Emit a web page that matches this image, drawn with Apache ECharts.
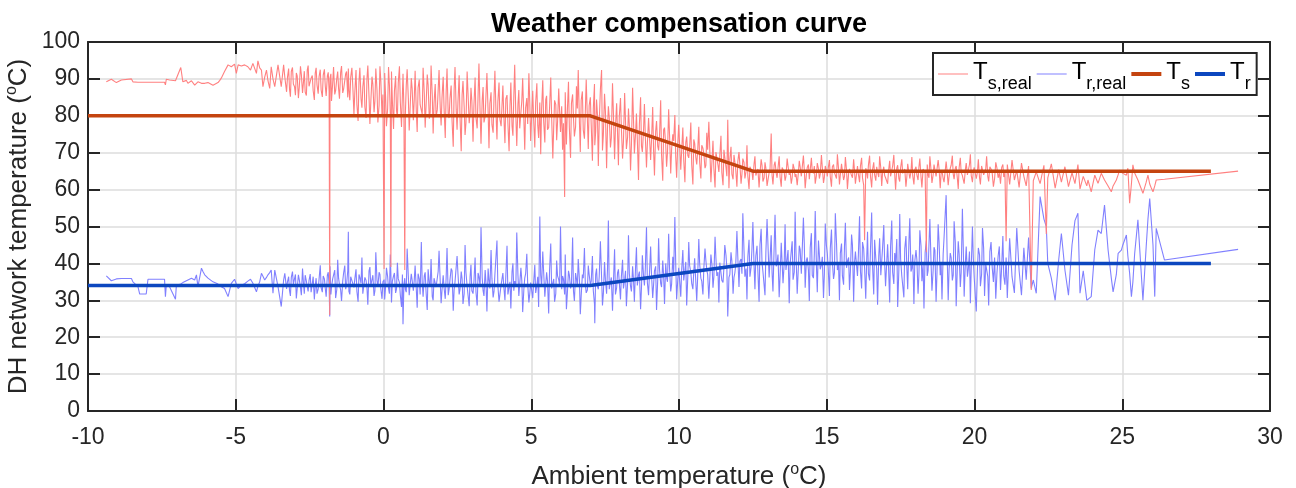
<!DOCTYPE html>
<html><head><meta charset="utf-8">
<script src="https://cdn.jsdelivr.net/npm/echarts@6/dist/echarts.min.js"></script>
<style>html,body{margin:0;padding:0;background:#fff}#c{width:1296px;height:488px}</style>
</head><body><div id="c"></div>
<script>
// ---- data ----
// measurement samples, batch 1 (whole range)
const ambient = [
 -9.38,-9.21,-9.04,-8.98,-8.87,-8.53,-8.48,-8.31,-8.25,-8.03,-7.97,-7.41,-7.38,-7.35,-7.24,-7.04,
 -7.01,-6.86,-6.79,-6.67,-6.62,-6.50,-6.39,-6.33,-6.28,-6.16,-6.11,-6.05,-5.94,-5.88,-5.77,-5.71,
 -5.60,-5.54,-5.49,-5.38,-5.26,-5.15,-5.04,-4.98,-4.92,-4.81,-4.70,-4.64,-4.59,-4.50,-4.47,-4.42,
 -4.30,-4.25,-4.19,-4.13,-4.08,-4.02,-3.96,-3.91,-3.85,-3.80,-3.74,-3.68,-3.57,-3.46,-3.38,-3.34,
 -3.28,-3.21,-3.15,-3.08,-3.01,-2.95,-2.88,-2.81,-2.74,-2.68,-2.61,-2.55,-2.48,-2.41,-2.34,-2.28,-2.21,-2.14,-2.07,
 -2.00,-1.94,-1.87,-1.82,-1.81,-1.76,-1.69,-1.62,-1.55,-1.49,-1.42,-1.35,-1.28,-1.21,-1.19,-1.14,-1.07,
 -1.00,-0.93,-0.86,-0.80,-0.73,-0.66,-0.59,-0.53,-0.46,-0.39,-0.32,-0.26,-0.19,-0.12,-0.05,
 0.02,0.04,0.10,0.17,0.23,0.25,0.27,0.34,0.41,0.47,0.54,0.61,0.66,0.72,0.74,0.80,0.87,0.94,
 1.01,1.07,1.14,1.21,1.28,1.34,1.41,1.48,1.55,1.61,1.68,1.75,1.82,1.88,1.95,
 2.02,2.09,2.15,2.22,2.29,2.36,2.42,2.49,2.56,2.63,2.69,2.76,2.83,2.90,2.96,
 3.03,3.10,3.17,3.23,3.30,3.37,3.44,3.50,3.57,3.64,3.71,3.77,3.84,3.91,3.98,
 4.04,4.11,4.18,4.25,4.31,4.38,4.44,4.51,4.58,4.65,4.71,4.78,4.85,4.92,4.98,
 5.05,5.12,5.19,5.25,5.29,5.32,5.39,5.46,5.52,5.59,5.66,5.73,5.79,5.86,5.93,5.99,
 6.06,6.13,6.15,6.19,6.26,6.33,6.40,6.46,6.53,6.59,6.66,6.73,6.80,6.86,6.93,
 7.00,7.07,7.14,7.15,7.21,7.27,7.34,7.38,7.41,7.48,7.55,7.61,7.68,7.75,7.82,7.89,7.95,
 8.02,8.09,8.16,8.22,8.29,8.36,8.43,8.49,8.56,8.63,8.70,8.76,8.83,8.90,8.97,
 9.04,9.11,9.17,9.24,9.31,9.38,9.45,9.51,9.58,9.65,9.72,9.79,9.86,9.92,9.99,
 10.06,10.13,10.20,10.26,10.33,10.40,10.47,10.53,10.60,10.67,10.74,10.81,10.88,10.94,11.01,
 11.08,11.15,11.22,11.28,11.35,11.42,11.49,11.55,11.62,11.65,11.69,11.76,11.83,11.89,11.96,
 12.03,12.10,12.16,12.23,12.30,12.37,12.44,12.50,12.57,12.64,12.71,12.78,12.84,12.91,12.98,
 13.05,13.12,13.18,13.25,13.32,13.39,13.46,13.52,13.59,13.66,13.73,13.80,13.86,13.93,
 14.00,14.07,14.14,14.21,14.27,14.34,14.41,14.48,14.55,14.61,14.68,14.75,14.82,14.89,14.95,
 15.02,15.09,15.16,15.23,15.29,15.36,15.43,15.50,15.57,15.63,15.70,15.77,15.84,15.91,15.97,
 16.04,16.11,16.18,16.25,16.28,16.32,16.38,16.45,16.52,16.59,16.66,16.72,16.79,16.86,16.93,16.99,
 17.06,17.13,17.20,17.27,17.33,17.40,17.47,17.54,17.61,17.68,17.74,17.81,17.88,17.95,
 18.02,18.09,18.15,18.22,18.29,18.37,18.43,18.49,18.56,18.63,18.70,18.77,18.84,18.90,18.97,
 19.04,19.11,19.18,19.25,19.31,19.38,19.45,19.52,19.59,19.65,19.72,19.79,19.86,19.93,19.99,
 20.06,20.13,20.20,20.27,20.34,20.41,20.48,20.56,20.64,20.72,20.80,20.88,20.96,
 21.03,21.07,21.11,21.19,21.27,21.35,21.43,21.51,21.59,21.67,21.75,21.83,21.92,21.99,
 22.09,22.22,22.35,22.43,22.48,22.60,22.73,22.85,22.94,23.06,23.18,23.30,23.40,23.50,23.57,23.68,23.80,
 23.84,23.95,24.07,24.18,24.29,24.40,24.52,24.63,24.69,24.80,24.86,24.91,24.97,25.02,25.14,25.19,
 25.25,25.31,25.36,25.42,25.53,25.70,25.81,25.87,25.93,25.98,26.04,26.10,26.15,26.43,28.92
];
const tsReal = [
 89.2,89.9,89.0,89.3,89.7,90.0,89.2,89.1,89.1,89.1,89.1,89.1,88.4,89.9,89.7,89.5,
 89.5,93.1,89.2,89.6,88.8,89.5,88.3,88.8,89.2,88.8,88.6,88.8,89.0,88.7,88.3,88.6,
 89.0,89.6,90.2,92.0,93.8,93.3,94.0,91.5,93.8,93.5,93.8,93.5,93.3,92.4,92.0,94.2,
 91.5,94.9,93.0,92.4,87.9,90.5,92.4,89.5,87.4,93.3,90.0,87.9,93.8,87.9,93.8,90.5,
 86.5,92.8,85.2,93.1,87.9,91.6,84.8,93.4,86.2,92.1,85.5,93.6,88.4,90.9,84.3,93.0,86.0,92.5,85.1,
 92.6,85.4,91.8,26.0,90.2,84.0,93.2,86.8,92.0,84.6,93.5,87.2,91.4,85.0,92.8,84.2,93.0,
 80.5,92.4,78.6,93.0,82.2,91.0,79.4,93.6,77.8,90.6,81.0,92.8,78.2,93.4,80.0,
 38.5,91.6,77.2,93.2,80.6,39.0,92.0,76.4,90.8,79.6,93.4,77.0,91.4,38.2,80.4,92.6,76.0,90.2,
 78.8,92.2,75.6,89.8,83.0,93.0,76.8,91.2,79.2,93.6,75.2,88.6,81.6,92.4,77.4,
 90.6,74.0,92.8,79.4,88.2,71.6,93.2,76.2,91.0,70.4,89.4,74.8,92.0,78.0,87.6,
 73.0,90.4,76.6,94.2,72.4,87.8,79.8,91.6,71.2,86.4,75.4,92.2,73.6,89.0,77.2,
 88.2,72.6,85.6,70.4,89.0,74.6,93.8,71.8,87.0,76.4,90.2,70.8,84.8,91.5,73.2,
 86.8,71.4,88.8,74.0,83.6,69.6,89.6,72.8,85.4,76.8,90.4,68.4,84.2,73.4,87.4,75.6,
 70.8,58.0,86.4,72.2,89.2,68.6,85.8,74.4,88.0,92.4,70.2,86.6,73.8,89.8,71.0,
 85.0,67.8,88.6,72.0,84.4,66.4,87.2,92.4,70.6,86.0,65.8,82.6,71.4,88.8,68.2,83.4,66.6,
 84.8,68.4,86.2,71.0,82.0,65.2,87.6,69.8,80.6,62.6,85.0,70.2,83.2,66.0,79.4,
 68.0,82.4,63.8,78.6,70.6,84.2,62.4,76.8,66.2,81.8,64.4,75.0,80.2,63.2,77.6,
 65.4,76.8,62.0,74.4,68.6,78.2,61.4,72.6,66.8,77.0,63.0,71.2,65.8,75.4,78.4,
 62.0,73.2,60.6,70.4,64.8,74.6,61.2,68.8,63.6,78.9,60.4,71.6,62.8,67.6,60.8,
 70.2,61.6,68.4,63.0,72.0,60.2,66.6,62.6,69.0,64.2,60.6,68.2,62.2,67.4,61.0,
 64.6,75.2,61.4,67.6,63.2,69.0,60.8,66.2,62.4,68.4,64.0,61.6,67.0,63.4,
 61.2,67.8,63.6,69.2,60.4,66.0,62.8,68.6,64.4,61.6,67.2,63.0,69.4,61.8,66.4,
 63.6,68.0,60.8,66.8,64.2,69.6,61.4,67.0,62.6,68.8,60.2,65.6,63.8,68.2,61.6,
 66.4,62.0,68.6,61.2,46.3,65.8,63.0,69.2,60.6,67.4,62.4,64.8,69.0,61.0,66.2,63.2,
 61.6,67.8,63.4,69.4,60.0,66.6,62.2,68.2,64.6,60.8,67.0,63.0,68.8,61.4,
 66.2,62.6,68.4,60.6,65.4,43.0,64.0,69.0,61.8,66.8,63.6,68.0,60.4,65.0,62.0,
 67.6,61.2,65.8,69.2,62.8,66.4,60.2,68.6,63.8,61.6,67.2,64.4,69.6,62.0,66.0,
 63.0,68.2,61.4,66.0,64.0,69.0,62.2,65.6,60.8,67.4,63.2,61.6,66.8,
 64.6,46.0,66.8,61.4,68.0,62.6,65.2,60.6,67.2,63.6,61.0,66.4,32.8,62.4,
 64.8,61.6,66.6,48.0,63.2,67.0,60.4,65.4,62.0,66.2,60.8,64.6,61.6,66.8,60.2,63.6,61.0,
 62.6,59.4,63.9,61.7,64.4,62.6,61.0,59.4,61.0,62.6,64.0,65.3,64.8,64.4,63.9,65.8,
 56.3,61.5,66.7,64.5,62.6,59.0,62.0,63.9,61.5,60.5,59.4,61.0,62.6,62.8,65.0
];
const trReal = [
 36.6,35.3,35.8,35.9,35.9,35.9,35.0,33.7,31.7,31.7,35.7,35.7,31.0,34.1,33.7,30.3,
 34.1,34.4,34.8,35.3,34.8,36.0,35.5,36.9,33.7,38.7,37.8,36.9,36.0,35.5,35.0,34.8,
 34.4,34.1,33.7,33.2,31.0,34.6,35.7,34.4,33.2,34.1,34.5,34.8,35.2,35.7,35.2,34.6,
 32.3,33.8,35.0,37.3,36.5,35.5,36.2,36.9,37.5,38.2,31.9,38.2,33.7,28.3,35.5,37.3,
 33.1,36.4,31.2,37.8,34.0,30.5,36.9,33.5,38.6,31.8,35.2,32.4,37.1,34.6,30.2,36.0,33.0,39.5,32.2,
 35.8,31.0,37.6,25.6,39.2,33.4,36.8,30.6,41.0,34.2,29.8,37.4,33.0,38.0,48.6,31.6,36.2,
 33.5,38.4,29.6,36.2,41.6,32.0,35.4,28.8,39.0,34.4,31.2,43.0,33.6,37.0,30.4,
 35.6,30.2,38.8,33.2,42.4,37.2,29.4,36.6,32.0,40.2,34.8,28.2,23.5,36.0,33.0,44.0,31.4,37.2,
 32.6,39.4,28.0,35.8,45.8,31.0,37.6,27.4,34.6,41.2,30.0,36.4,33.2,43.4,29.2,
 36.8,30.4,44.2,33.0,38.6,27.2,35.0,42.0,31.6,37.8,29.0,45.0,33.8,28.4,39.6,
 31.8,41.6,28.6,36.4,49.8,32.6,38.2,27.0,35.4,43.6,30.8,37.0,46.2,29.6,34.2,
 37.4,30.0,44.8,33.6,27.8,40.0,35.2,48.4,31.2,38.8,26.8,36.0,42.6,29.4,34.8,
 30.6,39.6,34.0,28.2,52.7,36.8,43.2,31.0,37.6,26.4,45.4,33.4,29.6,40.8,35.6,50.0,
 36.6,31.6,42.4,27.6,38.0,33.2,47.0,29.8,35.8,41.2,26.2,37.0,44.2,32.0,39.4,
 34.2,42.0,29.0,23.8,38.6,33.0,46.0,36.4,28.6,40.4,31.8,51.6,35.0,27.2,43.8,33.4,38.4,
 30.2,41.0,35.6,28.4,47.6,33.8,39.2,29.6,44.4,36.8,27.6,42.2,34.0,49.8,31.4,
 44.6,30.6,38.0,27.4,46.8,34.6,40.8,29.0,36.2,48.0,32.4,41.8,52.6,30.2,38.8,
 31.0,43.6,35.2,28.6,45.8,37.6,33.0,41.4,29.8,46.6,36.0,31.6,44.0,38.2,30.4,
 42.4,33.4,47.2,36.6,29.4,40.6,34.8,45.0,38.6,25.6,36.2,43.0,31.8,37.4,48.8,
 33.6,41.2,53.6,36.4,30.2,46.4,39.0,51.2,33.0,44.8,29.6,49.4,37.8,31.4,52.0,
 36.2,47.6,32.4,53.2,40.2,30.8,45.6,34.6,50.6,38.4,29.2,43.4,35.6,54.0,
 31.8,44.8,37.2,52.4,33.4,41.6,29.8,48.2,36.0,54.2,32.2,46.0,39.6,30.6,50.8,
 42.6,31.2,49.2,35.8,53.6,38.2,30.0,45.4,34.2,51.0,40.6,32.8,47.8,29.6,43.2,
 36.6,52.8,33.2,44.0,38.8,30.4,48.6,35.4,53.8,31.6,41.4,28.8,46.8,37.0,50.4,33.8,
 45.2,29.4,51.6,34.4,40.0,28.2,53.4,36.6,30.8,47.4,33.0,52.2,38.6,29.0,
 43.6,31.8,49.0,35.2,27.8,46.2,38.0,52.0,32.6,44.4,29.6,50.6,36.8,30.2,47.0,
 58.5,30.0,42.8,35.4,51.4,28.4,46.0,33.6,54.8,31.0,44.6,38.4,29.2,50.0,36.2,
 27.0,44.2,33.8,49.6,31.2,40.0,28.6,45.8,35.0,30.4,42.0,32.8,47.4,
 34.2,41.6,30.6,46.8,36.4,32.0,49.6,38.0,31.4,44.2,35.6,47.0,33.2,35.5,
 31.9,58.1,52.0,50.0,40.0,36.0,30.0,41.0,48.1,38.2,31.4,45.0,51.6,53.6,31.9,38.0,30.0,
 30.5,31.0,43.7,49.0,48.1,55.8,43.7,36.0,32.3,37.0,42.7,43.0,43.6,45.0,47.7,42.0,
 37.3,31.0,35.0,42.7,51.8,30.0,44.5,52.0,57.6,57.2,45.0,31.0,49.5,40.9,43.8
];
// measurement samples, batch 2 (dense core, -3.3 .. 21)
const ambient2 = [
 -3.25,-3.18,-3.12,-3.05,-2.98,-2.92,-2.85,-2.78,-2.71,-2.65,-2.58,-2.52,-2.45,-2.38,-2.31,-2.25,-2.18,-2.11,-2.04,
 -1.97,-1.90,-1.84,-1.78,-1.72,-1.65,-1.58,-1.52,-1.45,-1.38,-1.31,-1.25,-1.17,-1.11,-1.04,
 -0.97,-0.90,-0.83,-0.76,-0.70,-0.63,-0.56,-0.49,-0.43,-0.36,-0.29,-0.22,-0.15,-0.09,-0.02,
 0.07,0.14,0.20,0.30,0.37,0.44,0.50,0.57,0.64,0.69,0.77,0.84,0.90,0.97,
 1.04,1.11,1.17,1.24,1.31,1.38,1.44,1.51,1.58,1.65,1.71,1.78,1.85,1.92,1.98,
 2.05,2.12,2.19,2.25,2.32,2.39,2.46,2.52,2.59,2.66,2.73,2.79,2.86,2.93,2.99,
 3.06,3.13,3.20,3.27,3.34,3.40,3.47,3.54,3.60,3.67,3.74,3.81,3.87,3.94,
 4.07,4.14,4.21,4.28,4.35,4.41,4.48,4.55,4.61,4.68,4.75,4.81,4.88,4.95,
 5.08,5.15,5.22,5.35,5.42,5.49,5.55,5.62,5.69,5.76,5.83,5.89,5.96,
 6.03,6.09,6.22,6.29,6.36,6.43,6.50,6.56,6.63,6.69,6.76,6.83,6.90,6.96,
 7.03,7.10,7.18,7.24,7.30,7.44,7.51,7.58,7.64,7.71,7.78,7.85,7.92,7.98,
 8.05,8.12,8.19,8.26,8.32,8.39,8.46,8.53,8.59,8.66,8.73,8.80,8.86,8.93,
 9.07,9.14,9.21,9.28,9.34,9.41,9.48,9.55,9.61,9.68,9.75,9.82,9.89,9.96,
 10.09,10.16,10.23,10.30,10.36,10.43,10.50,10.57,10.63,10.70,10.77,10.84,10.91,10.97,
 11.12,11.18,11.25,11.32,11.38,11.45,11.52,11.59,11.72,11.79,11.86,11.92,11.99,
 12.06,12.13,12.20,12.27,12.33,12.40,12.47,12.54,12.60,12.67,12.74,12.81,12.88,12.94,
 13.08,13.15,13.22,13.29,13.35,13.42,13.49,13.56,13.62,13.69,13.76,13.83,13.90,13.96,
 14.04,14.10,14.17,14.24,14.31,14.38,14.44,14.51,14.58,14.65,14.72,14.78,14.85,14.92,14.99,
 15.05,15.12,15.19,15.26,15.33,15.40,15.46,15.53,15.60,15.67,15.74,15.80,15.87,15.94,
 16.07,16.14,16.21,16.35,16.41,16.48,16.55,16.62,16.69,16.76,16.83,16.89,16.96,
 17.09,17.16,17.23,17.30,17.37,17.44,17.50,17.57,17.64,17.71,17.78,17.85,17.91,17.98,
 18.05,18.12,18.19,18.26,18.33,18.40,18.46,18.53,18.60,18.66,18.73,18.80,18.87,18.94,
 19.07,19.14,19.21,19.28,19.35,19.42,19.48,19.55,19.62,19.69,19.76,19.83,19.89,19.96,
 20.10,20.17,20.24,20.31,20.38,20.45,20.52,20.60,20.68,20.76,20.84,20.92,20.99
];
const tsReal2 = [
 90.4,87.2,92.0,88.6,85.6,90.8,87.8,91.2,89.0,86.4,92.4,88.0,90.2,86.8,91.6,88.4,90.6,87.0,91.0,
 88.0,90.8,86.6,91.4,88.8,85.8,90.2,87.4,91.8,86.2,89.6,92.0,87.0,90.4,88.2,
 86.4,83.0,89.2,84.6,87.8,82.4,90.0,85.2,83.6,88.6,84.0,87.0,82.8,89.4,85.8,
 85.4,82.0,88.4,84.2,86.8,81.4,89.0,83.6,86.0,82.6,88.2,84.8,81.8,87.4,
 84.4,81.2,87.6,83.0,80.4,86.2,82.6,88.4,81.0,85.8,83.4,79.8,87.0,82.2,85.0,
 82.0,86.4,80.2,84.8,78.6,87.0,81.6,83.8,79.4,85.6,82.4,78.0,86.2,80.8,84.0,
 82.8,79.4,85.4,80.6,84.2,78.2,86.0,81.2,83.4,77.6,85.0,80.0,83.8,79.0,
 80.4,84.6,78.0,82.8,77.2,85.2,79.6,83.2,76.6,84.0,79.0,82.2,77.8,83.6,
 79.2,83.6,77.4,81.8,78.6,84.4,76.2,82.2,79.8,77.0,83.0,78.4,81.4,
 82.6,78.0,80.8,76.6,83.4,79.2,77.0,82.0,78.4,84.2,76.2,81.2,79.0,82.8,
 77.4,82.0,75.6,80.4,78.2,74.8,81.2,76.6,79.6,74.0,80.8,77.0,75.4,79.8,
 76.8,73.0,78.6,74.2,77.4,72.0,79.0,75.2,73.6,77.8,71.8,76.0,74.6,72.6,
 73.4,70.6,75.8,71.8,74.4,69.4,76.2,72.2,70.0,74.8,71.0,73.2,68.8,72.8,
 70.6,68.0,72.8,69.2,71.4,66.8,73.6,68.6,70.2,67.4,72.0,69.8,66.6,70.8,
 68.4,65.8,70.2,66.6,69.0,64.6,70.8,66.0,68.2,64.2,69.4,65.4,67.6,
 66.8,64.2,67.4,65.0,63.6,66.2,64.8,67.0,63.8,65.6,64.4,66.6,63.2,65.8,
 65.4,63.8,66.6,64.4,65.8,63.4,66.0,64.8,63.6,66.4,65.0,63.2,65.6,64.2,
 64.6,66.2,63.6,65.4,64.0,66.8,63.2,65.0,66.4,63.8,65.6,64.2,66.0,63.4,65.2,
 65.8,63.4,66.2,64.6,63.0,65.6,64.0,66.6,63.6,65.2,64.4,66.0,63.2,65.0,
 64.2,66.4,63.2,64.8,66.6,63.6,65.4,64.0,66.2,63.4,65.8,64.6,63.8,
 65.0,63.6,66.4,64.2,65.8,63.0,66.0,64.4,65.6,63.4,66.6,64.8,63.8,65.4,
 64.0,66.2,63.4,65.6,64.6,66.8,63.2,65.2,64.0,66.4,63.6,65.8,64.4,63.0,
 65.2,63.6,66.6,64.2,65.8,63.0,66.0,64.6,63.4,65.4,64.0,66.8,63.8,65.0,
 64.8,63.2,66.4,64.0,65.6,63.6,66.2,64.4,63.0,65.8,64.6,66.0,63.4
];
const trReal2 = [
 35.0,32.6,36.2,34.4,37.0,33.2,35.6,31.4,34.8,36.8,33.6,35.4,32.2,36.4,34.0,31.8,35.8,33.4,36.6,
 33.2,36.8,34.0,31.6,35.8,38.2,33.0,36.0,32.8,35.2,39.4,34.2,32.4,36.4,34.6,
 35.8,32.4,37.0,34.6,31.8,36.2,33.4,38.0,34.0,36.8,32.6,35.4,37.6,33.0,35.0,
 33.6,36.4,31.8,35.2,37.4,33.0,35.8,31.4,37.0,34.2,32.2,36.6,34.0,35.4,
 35.4,33.0,37.2,31.6,34.8,36.6,32.4,38.4,34.0,31.0,36.0,33.6,37.8,35.0,32.8,
 33.4,36.2,31.4,35.6,38.0,32.8,34.6,37.2,33.0,35.8,31.8,37.6,34.2,36.4,32.6,
 35.0,32.2,37.4,33.8,36.2,31.2,34.4,38.6,33.2,35.8,32.4,36.8,34.0,31.6,
 33.8,36.6,31.6,35.0,37.8,32.6,34.2,36.8,30.8,35.4,33.0,37.2,34.4,31.8,
 34.6,32.0,36.4,33.6,37.6,31.4,35.2,38.2,33.2,35.8,31.8,36.6,34.0,
 33.0,35.8,31.6,36.8,34.2,32.4,37.4,33.6,35.6,31.2,36.0,34.4,32.8,37.0,
 35.2,32.6,37.0,33.8,36.4,31.8,35.6,38.4,33.0,36.2,34.6,31.6,37.4,34.8,
 36.4,33.2,38.0,34.6,37.2,32.4,35.6,39.0,34.0,37.8,33.4,36.6,38.4,34.8,
 37.0,34.2,39.2,35.6,38.4,33.6,36.8,40.0,35.0,38.6,34.4,37.4,39.6,35.8,
 38.2,35.4,40.4,36.8,39.4,34.6,37.8,41.2,36.0,39.8,35.2,38.6,40.8,37.0,
 39.2,36.4,41.4,37.6,40.2,35.4,38.8,42.2,37.0,40.6,36.2,39.6,41.8,
 40.6,37.2,43.4,38.6,41.8,36.4,44.2,39.4,42.0,37.8,45.0,40.2,38.0,43.0,
 41.0,37.4,44.6,39.2,42.4,36.6,45.2,40.0,38.2,43.6,39.8,46.0,37.6,42.8,
 39.0,43.8,37.0,45.4,40.8,38.2,44.2,36.8,42.6,39.6,46.2,38.4,41.8,37.2,44.8,
 38.6,44.0,40.4,37.4,45.6,39.6,42.8,36.6,44.6,38.8,41.6,37.8,45.0,40.2,
 42.2,38.0,45.8,40.6,37.2,43.8,39.4,46.4,38.6,42.0,36.8,44.4,40.0,
 39.4,44.6,37.6,42.8,46.6,38.2,41.2,36.4,44.0,39.0,45.6,37.8,42.4,40.6,
 41.0,37.2,44.8,39.6,43.0,36.6,45.4,40.2,38.0,43.6,37.4,46.0,39.8,42.6,
 44.0,38.4,41.6,36.8,45.8,39.2,42.6,37.6,44.4,40.0,36.4,43.2,38.8,41.4,
 38.6,42.4,37.0,44.0,39.8,36.4,43.2,38.8,41.6,37.4,44.6,39.2,36.6
];
// compensation curves (break points)
const curveAmbient = [-10, 7, 12.5, 28];
const tsCurve = [80, 80, 65, 65];
const trCurve = [34, 34, 40, 40];
const xTickStep = 5, yTickStep = 10;

// ---- chart ----
const FONT = 'Liberation Sans';
function merged(xa, ya, xb, yb) {
  const rows = [];
  const na = Math.min(xa.length, ya.length), nb = Math.min(xb.length, yb.length);
  for (let i = 0; i < na; i++) rows.push([xa[i], ya[i]]);
  for (let i = 0; i < nb; i++) rows.push([xb[i], yb[i]]);
  rows.sort((p, q) => p[0] - q[0]);
  return rows;
}
const pairs = (xs, ys) => xs.map((x, i) => [x, ys[i]]);
const legendRich = {
  t: { fontSize: 24, lineHeight: 28, verticalAlign: 'top', color: '#000', fontFamily: FONT },
  s: { fontSize: 18, lineHeight: 18, padding: [15, 0, 0, 0], verticalAlign: 'top', color: '#000', fontFamily: FONT }
};
const legendLabels = { 'Ts,real': '{t|T}{s|s,real}', 'Tr,real': '{t|T}{s|r,real}', 'Ts': '{t|T}{s|s}', 'Tr': '{t|T}{s|r}' };
const thinIcon = 'path://M0,0M0,6.5L30,6.5L30,7.5L0,7.5ZM30,14';
const thickIcon = 'path://M0,0M0,5L30,5L30,9L0,9ZM30,14';
const axisCommon = {
  axisLine: { show: true, onZero: false, lineStyle: { color: '#262626', width: 2 } },
  axisTick: { show: true, inside: true, length: 12, lineStyle: { color: '#262626', width: 2 } },
  splitLine: { show: false },
};
const nameStyle = { fontFamily: FONT, fontSize: 26, color: '#262626', lineHeight: 30,
  rich: { sup: { fontSize: 16, lineHeight: 16, verticalAlign: 'top', fontFamily: FONT, color: '#262626' } } };
const chart = echarts.init(document.getElementById('c'), null, { renderer: 'canvas' });
chart.setOption({
  animation: false,
  backgroundColor: '#fff',
  title: {
    text: 'Weather compensation curve', left: 674, top: 6, textAlign: 'center',
    textStyle: { fontFamily: FONT, fontSize: 27, fontWeight: 'bold', color: '#000' }
  },
  grid: { left: 88, right: 26, top: 42, bottom: 77, containLabel: false, outerBoundsMode: 'none' },
  legend: {
    left: 933, top: 53, orient: 'horizontal',
    itemWidth: 30, itemHeight: 14, itemGap: 5,
    padding: [7, 6, 2, 5],
    borderColor: '#262626', borderWidth: 2, backgroundColor: '#fff',
    data: [
      { name: 'Ts,real', icon: thinIcon },
      { name: 'Tr,real', icon: thinIcon },
      { name: 'Ts', icon: thickIcon },
      { name: 'Tr', icon: thickIcon }
    ],
    formatter: name => legendLabels[name],
    textStyle: { rich: legendRich }
  },
  xAxis: [
    Object.assign({}, axisCommon, {
      type: 'value', min: -10, max: 30, interval: xTickStep, position: 'bottom',
      name: 'Ambient temperature ({sup|o}C)', nameLocation: 'middle', nameGap: 51,
      nameTextStyle: nameStyle,
      axisLabel: { margin: 15, fontFamily: FONT, fontSize: 23, color: '#262626' },
      splitLine: { show: true, lineStyle: { color: '#dcdcdc', width: 1.5 } }
    }),
    Object.assign({}, axisCommon, {
      type: 'value', min: -10, max: 30, interval: xTickStep, position: 'top',
      axisLabel: { show: false }
    })
  ],
  yAxis: [
    Object.assign({}, axisCommon, {
      type: 'value', min: 0, max: 100, interval: yTickStep, position: 'left',
      name: 'DH network temperature ({sup|o}C)', nameLocation: 'middle', nameGap: 54, nameRotate: 90,
      nameMoveOverlap: false,
      nameTextStyle: nameStyle,
      axisLabel: { margin: 8, fontFamily: FONT, fontSize: 23, color: '#262626' },
      splitLine: { show: true, lineStyle: { color: '#dcdcdc', width: 1.5 } }
    }),
    Object.assign({}, axisCommon, {
      type: 'value', min: 0, max: 100, interval: yTickStep, position: 'right',
      axisLabel: { show: false }
    })
  ],
  series: [
    { name: 'Tr,real', type: 'line', xAxisIndex: 0, yAxisIndex: 0, data: merged(ambient, trReal, ambient2, trReal2),
      symbol: 'none', silent: true, z: 2, lineStyle: { color: '#8080ff', width: 1.1 }, itemStyle: { color: '#8080ff' } },
    { name: 'Ts,real', type: 'line', xAxisIndex: 0, yAxisIndex: 0, data: merged(ambient, tsReal, ambient2, tsReal2),
      symbol: 'none', silent: true, z: 3, lineStyle: { color: '#ff8080', width: 1.1 }, itemStyle: { color: '#ff8080' } },
    { name: 'Ts', type: 'line', xAxisIndex: 0, yAxisIndex: 0, data: pairs(curveAmbient, tsCurve),
      symbol: 'none', silent: true, z: 4, lineStyle: { color: '#c4440f', width: 3.5 }, itemStyle: { color: '#c4440f' } },
    { name: 'Tr', type: 'line', xAxisIndex: 0, yAxisIndex: 0, data: pairs(curveAmbient, trCurve),
      symbol: 'none', silent: true, z: 4, lineStyle: { color: '#0c47bf', width: 3.5 }, itemStyle: { color: '#0c47bf' } }
  ]
});
</script>
</body></html>
